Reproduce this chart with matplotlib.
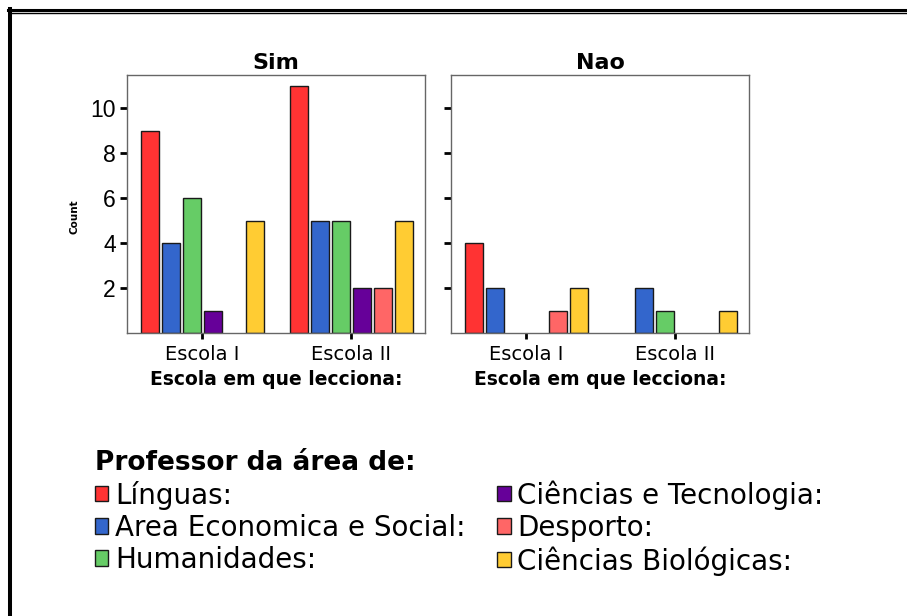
import matplotlib
matplotlib.use("Agg")
import matplotlib.pyplot as plt
import numpy as np
from matplotlib.patches import Patch
from matplotlib.lines import Line2D

# dados
escolas = ['Escola I', 'Escola II']
areas = ['Línguas:', 'Area Economica e Social:', 'Humanidades:',
         'Ciências e Tecnologia:', 'Desporto:', 'Ciências Biológicas:']
cores = ['#ff3333', '#3366cc', '#66cc66', '#660099', '#ff6666', '#ffcc33']

# contagens por area, [Escola I, Escola II]
sim_linguas = [9, 11]
sim_economia = [4, 5]
sim_humanidades = [6, 5]
sim_tecnologia = [1, 2]
sim_desporto = [0, 2]
sim_biologicas = [5, 5]

nao_linguas = [4, 0]
nao_economia = [2, 2]
nao_humanidades = [0, 1]
nao_tecnologia = [0, 0]
nao_desporto = [1, 0]
nao_biologicas = [2, 1]

sim = [sim_linguas, sim_economia, sim_humanidades, sim_tecnologia, sim_desporto, sim_biologicas]
nao = [nao_linguas, nao_economia, nao_humanidades, nao_tecnologia, nao_desporto, nao_biologicas]

plt.rcParams['font.family'] = ['DejaVu Sans']

W, H = 907, 616
fig = plt.figure(figsize=(W / 100, H / 100), dpi=100)

# moldura
fig.add_artist(Line2D([10 / W, 10 / W], [0, 1 - 9 / H], color='black', lw=2.9))
fig.add_artist(Line2D([8 / W, 1], [1 - 10 / H, 1 - 10 / H], color='black', lw=2.2))
fig.add_artist(Line2D([11 / W, 1], [1 - 12.8 / H, 1 - 12.8 / H], color='black', lw=1.0))

ax1 = fig.add_axes([127 / W, 1 - 333 / H, 298 / W, 258 / H])
ax2 = fig.add_axes([451 / W, 1 - 333 / H, 298 / W, 258 / H])

x = np.arange(len(escolas))
passo = 0.141
largura = 0.121

for ax, dados, titulo in [(ax1, sim, 'Sim'), (ax2, nao, 'Nao')]:
    for i, (vals, cor) in enumerate(zip(dados, cores)):
        for j, v in enumerate(vals):
            if v > 0:
                ax.bar(x[j] + (i - 2.5) * passo, v, width=largura, color=cor,
                       edgecolor='#1a1a1a', linewidth=1.0)
    ax.set_xlim(-0.505, 1.495)
    ax.set_ylim(0, 11.47)
    ax.set_yticks([2, 4, 6, 8, 10])
    ax.set_xticks(x)
    ax.set_xticklabels(escolas, fontsize=14)
    ax.tick_params(axis='x', length=4, width=2, color='black', pad=5)
    ax.tick_params(axis='y', length=5, width=2, color='black', pad=3)
    for s in ax.spines.values():
        s.set_color('#666666')
        s.set_linewidth(1.0)
    ax.set_title(titulo, fontsize=16, fontweight='bold', pad=4)
    ax.set_xlabel('Escola em que lecciona:', fontsize=13.5, fontweight='bold')
    ax.xaxis.set_label_coords(0.5, -0.145)

for lab in ax1.get_yticklabels():
    lab.set_fontfamily('Liberation Sans')
    lab.set_fontsize(16.5)
ax2.set_yticklabels([])

fig.text(75 / W, 1 - 217 / H, 'Count', rotation=90, fontsize=7.5,
         fontweight='bold', ha='center', va='center')

handles = [Patch(facecolor=c, edgecolor='#1a1a1a', linewidth=1.0) for c in cores]
leg = fig.legend(handles, areas, loc='upper left',
                 bbox_to_anchor=(95 / W, 1 - 450 / H), ncol=2, frameon=False,
                 fontsize=20, title='Professor da área de:',
                 title_fontproperties={'size': 19, 'weight': 'bold'},
                 alignment='left', borderpad=0, labelspacing=0.15,
                 handlelength=0.47, handleheight=0.47, handletextpad=0.25,
                 columnspacing=1.15, borderaxespad=0)

fig.savefig('out.png', dpi=100)
